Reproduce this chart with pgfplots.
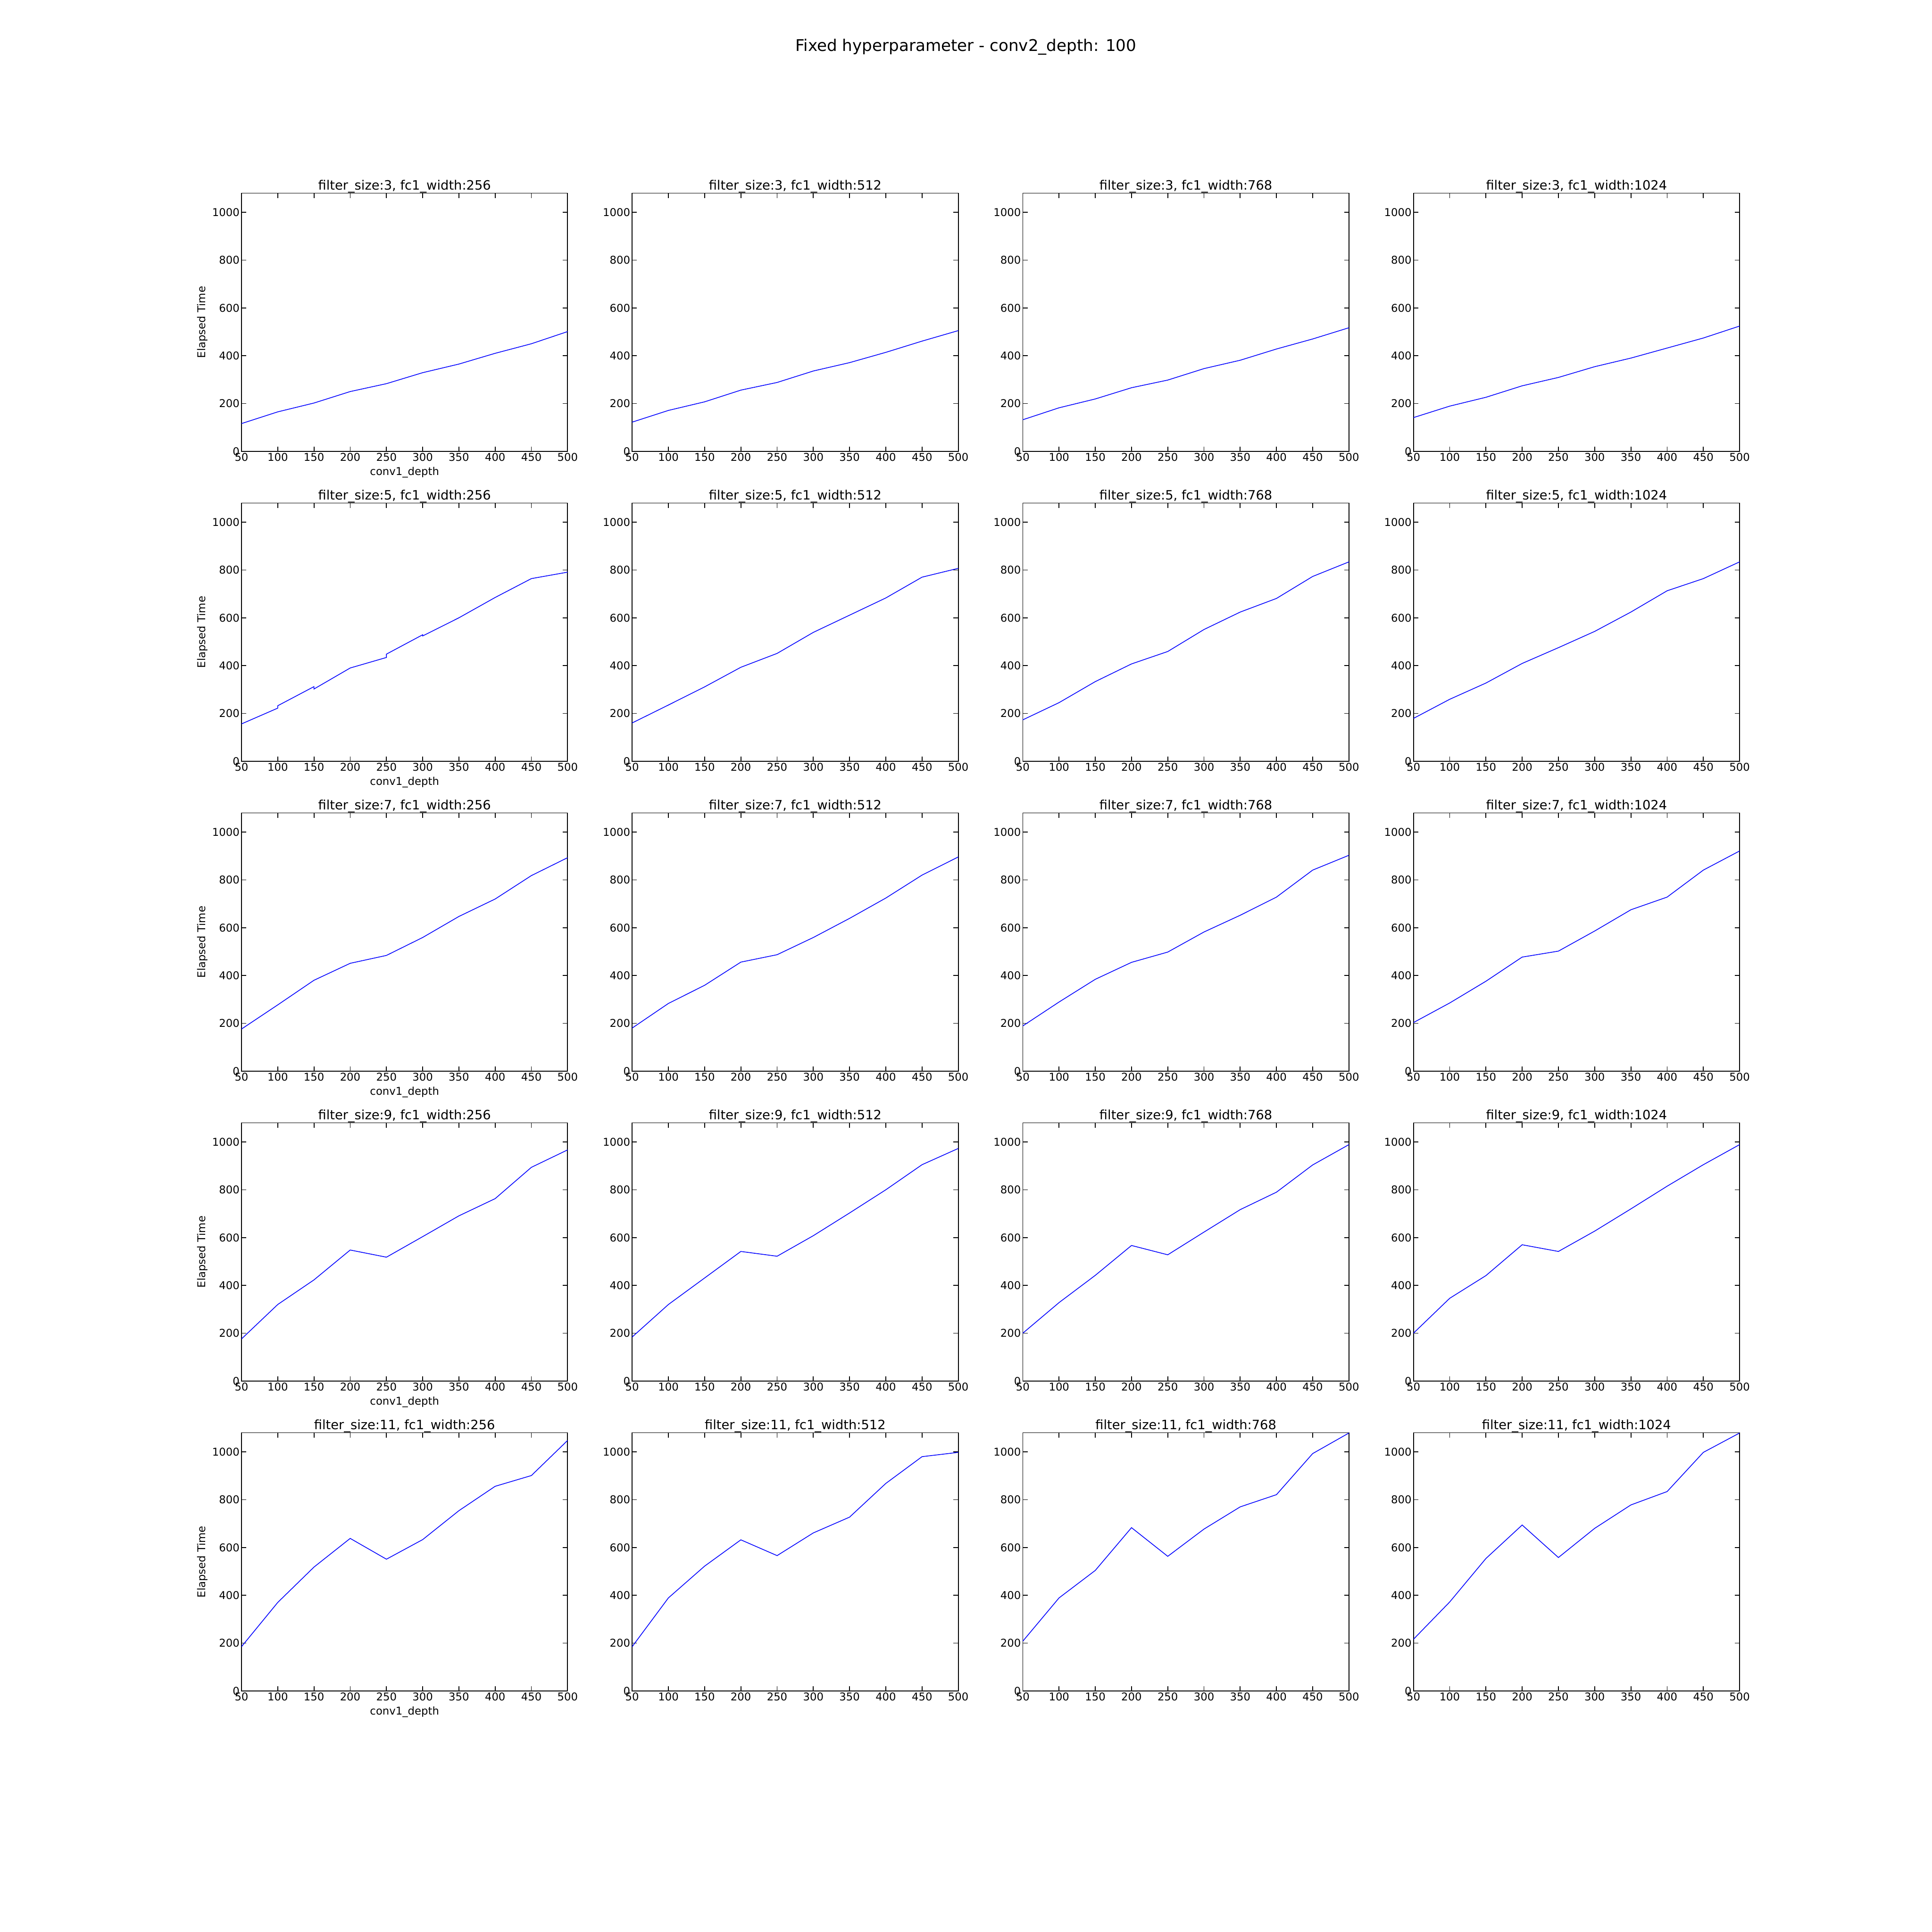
\documentclass[border=0pt]{standalone}
\usepackage{fontspec}
\setmainfont{DejaVu Sans}
\usepackage{pgfplots}
\pgfplotsset{compat=1.18}
\definecolor{mplblue}{rgb}{0,0,1}
\pgfplotsset{
  sub/.style={
    scale only axis, width=303.84pt, height=240.48pt,
    anchor=south west,
    xmin=50, xmax=500, ymin=0, ymax=1080,
    xtick={50,100,...,500}, ytick={0,200,...,1000},
    tick align=inside, tick pos=both, major tick length=4.5pt,
    axis line style={line width=0.8pt}, tick style={line width=0.8pt, black},
    every axis title/.style={font=\fontsize{12}{14}\selectfont, at={(0.5,1)}, anchor=base, yshift=3pt},
    tick label style={font=\fontsize{10}{12}\selectfont, inner sep=1.6pt},
    /pgf/number format/assume math mode=true,
    /pgf/number format/1000 sep={},
    scaled ticks=false,
    label style={font=\fontsize{10}{12}\selectfont},
    every axis y label/.style={at={(axis description cs:-0.12,0.5)}, anchor=center, rotate=90},
    every axis x label/.style={at={(axis description cs:0.5,0)}, anchor=center, yshift=-19.5pt},
    no markers,
    every axis plot/.append style={color=mplblue, line width=0.7pt},
  }
}
\begin{document}
\begin{tikzpicture}
\path[use as bounding box] (0pt,0pt) rectangle (1800pt,1800pt);
\node[font=\fontsize{15}{18}\selectfont, anchor=base] at (900pt,1752.5pt) {Fixed hyperparameter - conv2\_depth: 100};

% Row 1: filter_size 3
\begin{axis}[sub, at={(225pt,1379.52pt)}, title={filter\_size:3, fc1\_width:256}, ylabel={Elapsed Time}, xlabel={conv1\_depth}]
\addplot coordinates {(50,116)(100,165)(150,202)(200,250)(250,283)(300,329)(350,365)(400,410)(450,450)(500,501)};
\end{axis}
\begin{axis}[sub, at={(588.96pt,1379.52pt)}, title={filter\_size:3, fc1\_width:512}]
\addplot coordinates {(50,122)(100,171)(150,207)(200,256)(250,288)(300,336)(350,371)(400,414)(450,461)(500,505)};
\end{axis}
\begin{axis}[sub, at={(952.92pt,1379.52pt)}, title={filter\_size:3, fc1\_width:768}]
\addplot coordinates {(50,132)(100,182)(150,219)(200,266)(250,298)(300,346)(350,381)(400,428)(450,470)(500,517)};
\end{axis}
\begin{axis}[sub, at={(1316.88pt,1379.52pt)}, title={filter\_size:3, fc1\_width:1024}]
\addplot coordinates {(50,141)(100,189)(150,226)(200,274)(250,309)(300,354)(350,390)(400,432)(450,474)(500,524)};
\end{axis}

% Row 2: filter_size 5
\begin{axis}[sub, at={(225pt,1090.8pt)}, title={filter\_size:5, fc1\_width:256}, ylabel={Elapsed Time}, xlabel={conv1\_depth}]
\addplot coordinates {(50,156)(100,222)(100,232)(150,312)(150,302)(200,390)(250,434)(250,448)(300,529)(300,524)(350,600)(400,685)(450,764)(500,791)};
\end{axis}
\begin{axis}[sub, at={(588.96pt,1090.8pt)}, title={filter\_size:5, fc1\_width:512}]
\addplot coordinates {(50,160)(100,235)(150,311)(200,393)(250,451)(300,539)(350,611)(400,683)(450,770)(500,807)};
\end{axis}
\begin{axis}[sub, at={(952.92pt,1090.8pt)}, title={filter\_size:5, fc1\_width:768}]
\addplot coordinates {(50,173)(100,245)(150,333)(200,407)(250,459)(300,551)(350,624)(400,681)(450,773)(500,834)};
\end{axis}
\begin{axis}[sub, at={(1316.88pt,1090.8pt)}, title={filter\_size:5, fc1\_width:1024}]
\addplot coordinates {(50,179)(100,259)(150,327)(200,409)(250,475)(300,543)(350,624)(400,713)(450,764)(500,834)};
\end{axis}

% Row 3: filter_size 7
\begin{axis}[sub, at={(225pt,802.08pt)}, title={filter\_size:7, fc1\_width:256}, ylabel={Elapsed Time}, xlabel={conv1\_depth}]
\addplot coordinates {(50,176)(100,277)(150,380)(200,451)(250,484)(300,559)(350,647)(400,720)(450,818)(500,893)};
\end{axis}
\begin{axis}[sub, at={(588.96pt,802.08pt)}, title={filter\_size:7, fc1\_width:512}]
\addplot coordinates {(50,180)(100,283)(150,359)(200,456)(250,487)(300,559)(350,639)(400,724)(450,820)(500,896)};
\end{axis}
\begin{axis}[sub, at={(952.92pt,802.08pt)}, title={filter\_size:7, fc1\_width:768}]
\addplot coordinates {(50,189)(100,289)(150,384)(200,455)(250,498)(300,582)(350,652)(400,728)(450,841)(500,903)};
\end{axis}
\begin{axis}[sub, at={(1316.88pt,802.08pt)}, title={filter\_size:7, fc1\_width:1024}]
\addplot coordinates {(50,203)(100,285)(150,376)(200,477)(250,502)(300,586)(350,675)(400,728)(450,841)(500,921)};
\end{axis}

% Row 4: filter_size 9
\begin{axis}[sub, at={(225pt,513.36pt)}, title={filter\_size:9, fc1\_width:256}, ylabel={Elapsed Time}, xlabel={conv1\_depth}]
\addplot coordinates {(50,176)(100,320)(150,423)(200,548)(250,518)(300,604)(350,691)(400,763)(450,894)(500,967)};
\end{axis}
\begin{axis}[sub, at={(588.96pt,513.36pt)}, title={filter\_size:9, fc1\_width:512}]
\addplot coordinates {(50,184)(100,320)(150,431)(200,542)(250,522)(300,608)(350,703)(400,800)(450,905)(500,973)};
\end{axis}
\begin{axis}[sub, at={(952.92pt,513.36pt)}, title={filter\_size:9, fc1\_width:768}]
\addplot coordinates {(50,200)(100,328)(150,442)(200,567)(250,528)(300,623)(350,717)(400,790)(450,904)(500,989)};
\end{axis}
\begin{axis}[sub, at={(1316.88pt,513.36pt)}, title={filter\_size:9, fc1\_width:1024}]
\addplot coordinates {(50,200)(100,346)(150,441)(200,570)(250,542)(300,627)(350,720)(400,815)(450,905)(500,989)};
\end{axis}

% Row 5: filter_size 11
\begin{axis}[sub, at={(225pt,224.64pt)}, title={filter\_size:11, fc1\_width:256}, ylabel={Elapsed Time}, xlabel={conv1\_depth}]
\addplot coordinates {(50,185)(100,370)(150,518)(200,638)(250,551)(300,633)(350,754)(400,856)(450,901)(500,1048)};
\end{axis}
\begin{axis}[sub, at={(588.96pt,224.64pt)}, title={filter\_size:11, fc1\_width:512}]
\addplot coordinates {(50,185)(100,389)(150,522)(200,632)(250,566)(300,661)(350,727)(400,868)(450,980)(500,998)};
\end{axis}
\begin{axis}[sub, at={(952.92pt,224.64pt)}, title={filter\_size:11, fc1\_width:768}]
\addplot coordinates {(50,208)(100,389)(150,504)(200,683)(250,563)(300,677)(350,770)(400,821)(450,993)(500,1079)};
\end{axis}
\begin{axis}[sub, at={(1316.88pt,224.64pt)}, title={filter\_size:11, fc1\_width:1024}]
\addplot coordinates {(50,216)(100,372)(150,554)(200,694)(250,558)(300,680)(350,778)(400,834)(450,998)(500,1079)};
\end{axis}
\end{tikzpicture}
\end{document}
